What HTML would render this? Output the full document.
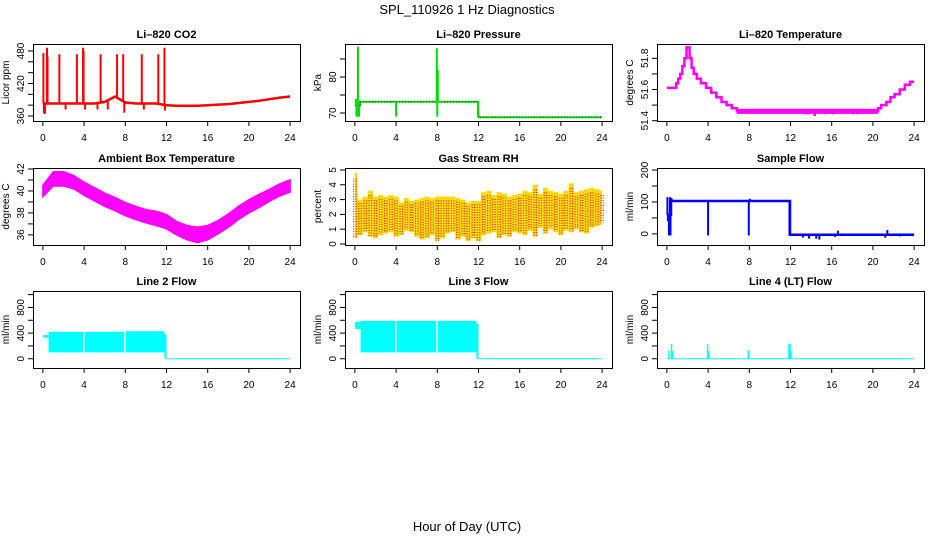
<!DOCTYPE html>
<html><head><meta charset="utf-8"><style>
body{margin:0;background:#fff}
svg{display:block;font-family:"Liberation Sans",sans-serif}
</style></head><body>
<svg id="fig" width="936" height="540" viewBox="0 0 936 540" xmlns="http://www.w3.org/2000/svg">
<rect width="936" height="540" fill="#fff"/>
<text x="467" y="14" font-size="13" text-anchor="middle">SPL_110926  1 Hz Diagnostics</text>
<text x="467" y="531" font-size="13" text-anchor="middle">Hour of Day (UTC)</text>
</svg>
<script>
// ---------- data ----------
const xTicks = [0,4,8,12,16,20,24];
// CO2
const co2Hours = [0,1,2,3,4,5,6,7,8,9,10,11,12,13,14,15,16,17,18,19,20,21,22,23,24];
const co2Base = [383,383,383,383,383,383,386,396,385,383,383,383,380,379,379,379,380,381,382,384,386,388,391,394,396];
const co2SpikeHours = [0.05,0.1,0.4,0.45,1.6,3.3,3.9,3.95,5.6,7.2,7.8,9.6,11.2,11.8,0.2,2.2,4.1,5.3,6.3,7.9,9.8,11.85];
const co2SpikeValues = [476,365,486,470,474,474,486,480,474,474,474,474,474,486,364,372,372,372,372,366,372,370];
const co2YTicks = [360,380,400,420,440,460,480];
const co2YLabels = ["360","","","420","","","480"];
// Pressure
const pressHours = [0,0.5,0.5,11.95,12.0,24];
const pressValues = [72,72,73.1,73.1,68.8,68.8];
const pressSpikeHours = [0.1,0.15,0.2,0.3,0.4,4,7.95,8.0,8.05,11.95];
const pressSpikeValues = [74,69,69,88.4,69,69,88,69,82,69];
const pressYTicks = [70,75,80,85];
const pressYLabels = ["70","","80",""];
// Li-820 temperature
const tempHours = [0,0.6,0.9,1.1,1.3,1.5,1.7,1.9,2.2,2.4,2.6,2.9,3.3,3.8,4.3,4.8,5.3,5.8,6.3,6.8,20.5,20.8,21.3,21.7,22.1,22.6,23.1,23.6,24];
const tempValues = [51.61,51.61,51.64,51.67,51.70,51.75,51.80,51.87,51.80,51.74,51.70,51.67,51.64,51.61,51.58,51.55,51.52,51.50,51.48,51.46,51.48,51.50,51.52,51.55,51.57,51.60,51.63,51.65,51.65];
const tempDipHours = [13.4,13.7,14.3,14.4,15.4,16.1,18.1,18.5];
const tempDipValues = [51.44,51.44,51.43,51.43,51.44,51.44,51.44,51.44];
const tempYTicks = [51.4,51.5,51.6,51.7,51.8];
const tempYLabels = ["51.4","","51.6","","51.8"];
// Ambient box temperature
const ambHours = [0,1,2,3,4,5,6,7,8,9,10,11,12,13,14,15,16,17,18,19,20,21,22,23,24];
const ambCenter = [40.0,41.1,41.1,40.8,40.2,39.7,39.2,38.8,38.35,38.0,37.7,37.5,37.2,36.6,36.2,36.0,36.2,36.7,37.3,38.0,38.6,39.1,39.6,40.1,40.45];
const ambHalfWidth = [0.5,0.65,0.65,0.6,0.6,0.6,0.6,0.6,0.6,0.6,0.6,0.65,0.65,0.6,0.65,0.7,0.65,0.6,0.6,0.6,0.6,0.6,0.55,0.55,0.55];
const ambYTicks = [36,37,38,39,40,41,42];
const ambYLabels = ["36","","38","","40","","42"];
// Gas stream RH (half-hour bins)
const rhHigh = [4.8,3.0,3.2,3.6,3.2,3.3,3.2,3.3,3.2,2.8,3.1,2.9,3.0,3.1,3.2,3.1,3.2,3.2,3.2,3.2,3.1,3.0,2.8,2.9,2.9,3.5,3.6,3.3,3.5,3.4,3.2,3.3,3.4,3.6,3.5,4.0,3.4,3.8,3.6,3.5,3.4,3.6,4.1,3.5,3.6,3.7,3.8,3.7,3.6];
const rhLow = [0.4,0.6,0.8,0.5,0.4,0.6,0.7,0.8,0.5,0.6,0.9,0.8,0.5,0.3,0.4,0.6,0.2,0.4,0.7,0.8,0.3,0.5,0.2,0.4,0.2,0.6,0.7,0.8,0.4,0.6,0.5,0.8,0.7,0.6,0.9,0.5,1.1,0.7,1.0,0.8,0.6,0.9,0.8,1.0,0.8,0.7,1.1,1.2,1.3];
const rhYTicks = [0,1,2,3,4,5];
const rhYLabels = ["0","1","2","3","4","5"];
// Sample flow
const flowHours = [0,0.4,0.4,11.95,11.95,24];
const flowValues = [60,60,103,103,-3,-3];
const flowSpikeHours = [0.05,0.1,0.2,0.3,0.35,0.45,4,7.95,8.05,11.9,13.2,13.8,14.5,14.8,16.3,16.6,21.2,21.4,22.6];
const flowSpikeValues = [115,40,-5,115,-5,112,-5,-5,110,-5,-12,-15,-15,-18,-10,10,-12,12,-8];
const flowYTicks = [0,50,100,150,200];
const flowYLabels = ["0","","100","","200"];
// Line flows
const lineYTicks = [0,200,400,600,800,1000];
const lineYLabels = ["0","","400","","800",""];
const l2BlockStart = [0.55,4.05,8.05], l2BlockEnd = [3.9,7.9,11.8], l2BlockLow = [100,100,100], l2BlockHigh = [420,420,430];
const l2PreLow = 330, l2PreHigh = 370, l2Post = 360;
const l3BlockStart = [0.55,4.05,8.05], l3BlockEnd = [3.9,7.9,11.8], l3BlockLow = [100,100,100], l3BlockHigh = [590,590,590];
const l3PreLow = 465, l3PreHigh = 575, l3Post = 520;
const l4SpikeHours = [0.2,0.45,0.55,3.95,4.05,7.9,11.85,11.95,12.05];
const l4SpikeValues = [130,230,120,230,120,130,230,230,120];

// ---------- drawing ----------
const NS = "http://www.w3.org/2000/svg";
const fig = document.getElementById('fig');
function mk(tag, attrs, parent){const e=document.createElementNS(NS,tag);for(const k in attrs)e.setAttribute(k,attrs[k]);(parent||fig).appendChild(e);return e;}
const colL=[33,345,657], rowT=[44,168,291], W=267, H=77;

function panel(c,r,title,ylab,v0,v1,yTicks,yLabels,name){
  const L=colL[c], T=rowT[r], B=T+H;
  const g=mk('g',{});
  
  
  const x=h=>L+(h+0.96)/25.92*W;
  const y=v=>B-(v-v0)/(v1-v0)*H;
  const t=mk('text',{x:L+W/2,y:T-6,'font-size':11,'font-weight':'bold','text-anchor':'middle'},g);
  t.textContent=title;
  
  
  const yl=mk('text',{transform:`translate(${L-24},${T+H/2}) rotate(-90)`,'font-size':10,'text-anchor':'middle'},g);
  yl.textContent=ylab;
  
  
  const plot=mk('g',{},g);
  const ax=mk('g',{stroke:'#000','stroke-width':1,fill:'none'},g);
  
  
  mk('rect',{x:L+0.5,y:T+0.5,width:W,height:H},ax);
  mk('line',{x1:x(0),x2:x(24),y1:B+0.5,y2:B+0.5},ax);
  xTicks.forEach(h=>{
    mk('line',{x1:x(h),x2:x(h),y1:B,y2:B+5},ax);
    const tl=mk('text',{x:x(h),y:B+20,'font-size':10,'text-anchor':'middle',stroke:'none',fill:'#000'},g);
    tl.textContent=h;
    
    
  });
  yTicks.forEach((v,i)=>{
    mk('line',{x1:L-5,x2:L,y1:y(v),y2:y(v)},ax);
    if(yLabels[i]){
      const tl=mk('text',{transform:`translate(${L-9},${y(v)}) rotate(-90)`,'font-size':10,'text-anchor':'middle',stroke:'none',fill:'#000'},g);
      tl.textContent=yLabels[i];
      
      
    }
  });
  return {x,y,plot};
}
function interp(hs,vs,h){for(let i=1;i<hs.length;i++){if(h<=hs[i]){const f=(h-hs[i-1])/((hs[i]-hs[i-1])||1);return vs[i-1]+f*(vs[i]-vs[i-1]);}}return vs[vs.length-1];}
function pts(hs,vs,p){return hs.map((h,i)=>p.x(h).toFixed(1)+','+p.y(vs[i]).toFixed(1)).join(' ');}

// Panel 1: CO2
let p=panel(0,0,'Li–820 CO2','Licor ppm',360-5*120/65,480+7*120/65,co2YTicks,co2YLabels,'co2-panel');
let e=mk('polyline',{points:pts(co2Hours,co2Base,p),fill:'none',stroke:'#f00','stroke-width':2.5},p.plot);


co2SpikeHours.forEach((h,i)=>{const l=mk('line',{x1:p.x(h),x2:p.x(h),y1:p.y(interp(co2Hours,co2Base,h)),y2:p.y(co2SpikeValues[i]),stroke:'#f00','stroke-width':2},p.plot);
  
  });

// Panel 2: Pressure
p=panel(1,0,'Li–820 Pressure','kPa',70-8/3.6,80+33/3.6,pressYTicks,pressYLabels,'pressure-panel');
e=mk('polyline',{points:pts(pressHours,pressValues,p),fill:'none',stroke:'#0d0','stroke-width':2},p.plot);


e=mk('polyline',{points:pts(pressHours,pressValues,p),fill:'none',stroke:'#000','stroke-width':0.8,'stroke-dasharray':'1,2'},p.plot);


pressSpikeHours.forEach((h,i)=>{const l=mk('line',{x1:p.x(h),x2:p.x(h),y1:p.y(interp(pressHours,pressValues,h)),y2:p.y(pressSpikeValues[i]),stroke:'#0d0','stroke-width':2},p.plot);
  
  });

// Panel 3: Li-820 temperature
const tpp=(120.7-58.3)/0.4;
p=panel(2,0,'Li–820 Temperature','degrees C',51.4-0.3/tpp,51.8+14.3/tpp,tempYTicks,tempYLabels,'li820-temp-panel');
{let s='';tempHours.forEach((h,i)=>{const X=p.x(h).toFixed(1),Y=p.y(tempValues[i]).toFixed(1);if(i===0)s+=`M${X},${Y}`;else s+=`H${X}V${Y}`;});
e=mk('path',{d:s,fill:'none',stroke:'#f0f','stroke-width':2.5},p.plot);

}
e=mk('line',{x1:p.x(6.8),x2:p.x(20.5),y1:p.y(51.46),y2:p.y(51.46),stroke:'#f0f','stroke-width':5},p.plot);


tempDipHours.forEach((h,i)=>{const l=mk('line',{x1:p.x(h),x2:p.x(h),y1:p.y(51.46),y2:p.y(tempDipValues[i]),stroke:'#f0f','stroke-width':1.5},p.plot);
  
  });

// Panel 4: Ambient
const app=(234-169)/6;
p=panel(0,1,'Ambient Box Temperature','degrees C',36-10/app,42+1/app,ambYTicks,ambYLabels,'ambient-temp-panel');
{const up=ambHours.map((h,i)=>p.x(h).toFixed(1)+','+p.y(ambCenter[i]+ambHalfWidth[i]).toFixed(1));
 const dn=ambHours.map((h,i)=>p.x(h).toFixed(1)+','+p.y(ambCenter[i]-ambHalfWidth[i]).toFixed(1)).reverse();
 e=mk('polygon',{points:up.concat(dn).join(' '),fill:'#f0f',stroke:'#f0f','stroke-width':1.5},p.plot);
 
 }

// Panel 5: RH
p=panel(1,1,'Gas Stream RH','percent',0-1/15,5+2/15,rhYTicks,rhYLabels,'rh-panel');
rhHigh.forEach((hi,i)=>{const h=i*0.5;const xa=p.x(Math.max(0,h-0.25)),xb=p.x(Math.min(24,h+0.25));
  const r=mk('rect',{x:xa,y:p.y(hi),width:Math.max(1,xb-xa),height:p.y(rhLow[i])-p.y(hi),fill:'#ffd800'},p.plot);
  
  
  [-0.12,0.12].forEach(d=>{const l=mk('line',{x1:p.x(h+d),x2:p.x(h+d),y1:p.y(hi*0.92),y2:p.y(rhLow[i]*1.1),stroke:'#e00','stroke-width':1,'stroke-dasharray':'1,1.5'},p.plot);
    
    });
});

// Panel 6: Sample flow
const fpp=(233-170)/200;
p=panel(2,1,'Sample Flow','ml/min',0-11/fpp,200+2/fpp,flowYTicks,flowYLabels,'sample-flow-panel');
e=mk('polyline',{points:pts(flowHours,flowValues,p),fill:'none',stroke:'#00f','stroke-width':2.5},p.plot);


flowSpikeHours.forEach((h,i)=>{const l=mk('line',{x1:p.x(h),x2:p.x(h),y1:p.y(interp(flowHours,flowValues,h)),y2:p.y(flowSpikeValues[i]),stroke:'#00f','stroke-width':2},p.plot);
  
  });

// Panels 7-9: line flows
const lpp=(357-307)/800;
function linePanel(c,title,name,bs,be,bl,bh,preL,preH,post){
  const q=panel(c,2,title,'ml/min',0-9/lpp,800+16/lpp,lineYTicks,lineYLabels,name);
  if(bs){
    let r=mk('rect',{x:q.x(0),y:q.y(preH),width:q.x(bs[0])-q.x(0),height:q.y(preL)-q.y(preH),fill:'#0ff'},q.plot);
    
    
    bs.forEach((s,i)=>{const b=mk('rect',{x:q.x(s),y:q.y(bh[i]),width:q.x(be[i])-q.x(s),height:q.y(bl[i])-q.y(bh[i]),fill:'#0ff'},q.plot);
      
      });
    r=mk('rect',{x:q.x(be[be.length-1]),y:q.y(post+20),width:q.x(12)-q.x(be[be.length-1]),height:q.y(0)-q.y(post+20),fill:'#0ff'},q.plot);
    
    
    const l=mk('line',{x1:q.x(12),x2:q.x(24),y1:q.y(0),y2:q.y(0),stroke:'#0ff','stroke-width':1},q.plot);
    
    
  }
  return q;
}
linePanel(0,'Line 2 Flow','line2-flow-panel',l2BlockStart,l2BlockEnd,l2BlockLow,l2BlockHigh,l2PreLow,l2PreHigh,l2Post);
linePanel(1,'Line 3 Flow','line3-flow-panel',l3BlockStart,l3BlockEnd,l3BlockLow,l3BlockHigh,l3PreLow,l3PreHigh,l3Post);
p=linePanel(2,'Line 4 (LT) Flow','line4-flow-panel',null);
e=mk('line',{x1:p.x(0),x2:p.x(24),y1:p.y(0),y2:p.y(0),stroke:'#0ff','stroke-width':1},p.plot);


l4SpikeHours.forEach((h,i)=>{const l=mk('line',{x1:p.x(h),x2:p.x(h),y1:p.y(0),y2:p.y(l4SpikeValues[i]),stroke:'#0ff','stroke-width':1.5},p.plot);
  
  });
</script>
</body></html>
